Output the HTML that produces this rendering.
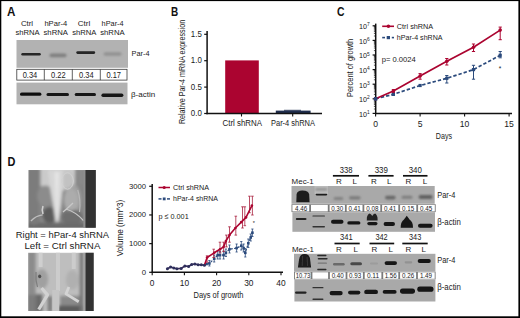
<!DOCTYPE html>
<html><head><meta charset="utf-8"><style>
html,body{margin:0;padding:0;background:#fff;overflow:hidden;}
svg{display:block;}
text{font-family:"Liberation Sans",sans-serif;}
</style></head><body>
<svg width="520" height="318" viewBox="0 0 520 318">
<defs>
<filter id="b1" x="-50%" y="-50%" width="200%" height="200%"><feGaussianBlur stdDeviation="0.7"/></filter>
<filter id="b2" x="-50%" y="-50%" width="200%" height="200%"><feGaussianBlur stdDeviation="1.0"/></filter>
<filter id="b3" x="-5%" y="-5%" width="110%" height="110%"><feGaussianBlur stdDeviation="0.6"/></filter><filter id="b4" x="-5%" y="-5%" width="110%" height="110%"><feGaussianBlur stdDeviation="1.6"/></filter>
<clipPath id="p1"><rect x="28.4" y="170" width="67.4" height="57.7"/></clipPath>
<clipPath id="p2"><rect x="28.1" y="252.8" width="65.6" height="58.3"/></clipPath>
</defs>
<rect x="0" y="0" width="520" height="318" fill="#fff"/>
<text x="7.00" y="16.30" font-size="12.2" fill="#111" textLength="8.40" lengthAdjust="spacingAndGlyphs" font-weight="bold" >A</text>
<text x="20.90" y="26.00" font-size="8.0" fill="#1a1a1a" textLength="12.20" lengthAdjust="spacingAndGlyphs" >Ctrl</text>
<text x="15.50" y="35.00" font-size="8.0" fill="#1a1a1a" textLength="24.20" lengthAdjust="spacingAndGlyphs" >shRNA</text>
<text x="44.40" y="26.00" font-size="8.0" fill="#1a1a1a" textLength="22.80" lengthAdjust="spacingAndGlyphs" >hPar-4</text>
<text x="43.50" y="35.00" font-size="8.0" fill="#1a1a1a" textLength="24.40" lengthAdjust="spacingAndGlyphs" >shRNA</text>
<text x="77.80" y="26.00" font-size="8.0" fill="#1a1a1a" textLength="12.40" lengthAdjust="spacingAndGlyphs" >Ctrl</text>
<text x="72.20" y="35.00" font-size="8.0" fill="#1a1a1a" textLength="24.20" lengthAdjust="spacingAndGlyphs" >shRNA</text>
<text x="101.60" y="26.00" font-size="8.0" fill="#1a1a1a" textLength="22.00" lengthAdjust="spacingAndGlyphs" >hPar-4</text>
<text x="100.20" y="35.00" font-size="8.0" fill="#1a1a1a" textLength="24.40" lengthAdjust="spacingAndGlyphs" >shRNA</text>
<rect x="16.50" y="40.00" width="111.50" height="27.80" fill="#b2b2b2" />
<g filter="url(#b1)">
<rect x="21.30" y="53.00" width="19.50" height="2.60" rx="1.30" fill="#252525" opacity="1"/>
<rect x="76.30" y="51.30" width="18.90" height="2.60" rx="1.30" fill="#252525" opacity="1"/>
</g>
<g filter="url(#b2)">
<rect x="49.50" y="53.60" width="17.10" height="3.60" rx="1.80" fill="#808080" opacity="1"/>
<rect x="103.50" y="52.20" width="18.10" height="3.60" rx="1.80" fill="#929292" opacity="1"/>
</g>
<rect x="16.80" y="69.30" width="110.20" height="10.80" fill="#fff" stroke="#3a3a3a" stroke-width="0.8"/>
<line x1="44.30" y1="69.30" x2="44.30" y2="80.10" stroke="#3a3a3a" stroke-width="0.8" />
<line x1="72.30" y1="69.30" x2="72.30" y2="80.10" stroke="#3a3a3a" stroke-width="0.8" />
<line x1="100.30" y1="69.30" x2="100.30" y2="80.10" stroke="#3a3a3a" stroke-width="0.8" />
<text x="30.00" y="78.30" font-size="8.6" fill="#1a1a1a" textLength="14.60" lengthAdjust="spacingAndGlyphs" text-anchor="middle" >0.34</text>
<text x="58.30" y="78.30" font-size="8.6" fill="#1a1a1a" textLength="14.60" lengthAdjust="spacingAndGlyphs" text-anchor="middle" >0.22</text>
<text x="86.30" y="78.30" font-size="8.6" fill="#1a1a1a" textLength="14.60" lengthAdjust="spacingAndGlyphs" text-anchor="middle" >0.34</text>
<text x="113.70" y="78.30" font-size="8.6" fill="#1a1a1a" textLength="14.60" lengthAdjust="spacingAndGlyphs" text-anchor="middle" >0.17</text>
<rect x="16.50" y="82.60" width="111.00" height="21.70" fill="#b2b2b2" />
<g filter="url(#b1)">
<rect x="20.00" y="92.60" width="21.40" height="3.20" rx="1.60" fill="#111" opacity="1"/>
<rect x="46.50" y="93.00" width="22.50" height="3.00" rx="1.50" fill="#151515" opacity="1"/>
<rect x="74.70" y="93.10" width="21.30" height="3.00" rx="1.50" fill="#151515" opacity="1"/>
<rect x="101.40" y="93.50" width="22.00" height="3.40" rx="1.70" fill="#151515" opacity="1"/>
</g>
<text x="131.60" y="55.50" font-size="8.0" fill="#1a1a1a" textLength="17.90" lengthAdjust="spacingAndGlyphs" >Par-4</text>
<text x="131.00" y="97.00" font-size="8.0" fill="#1a1a1a" textLength="24.20" lengthAdjust="spacingAndGlyphs" >β-actin</text>
<text x="170.90" y="16.40" font-size="12.2" fill="#111" textLength="7.20" lengthAdjust="spacingAndGlyphs" font-weight="bold" >B</text>
<text transform="translate(185,72) rotate(-90)" x="0" y="0" font-size="9" text-anchor="middle" textLength="104.2" lengthAdjust="spacingAndGlyphs" fill="#1a1a1a">Relative Par-4 mRNA expression</text>
<line x1="207.10" y1="31.00" x2="207.10" y2="114.20" stroke="#111" stroke-width="1.5" />
<line x1="204.20" y1="113.50" x2="207.10" y2="113.50" stroke="#111" stroke-width="1.2" />
<text x="201.80" y="116.20" font-size="8.3" fill="#1a1a1a" textLength="11.00" lengthAdjust="spacingAndGlyphs" text-anchor="end" >0.0</text>
<line x1="204.20" y1="87.10" x2="207.10" y2="87.10" stroke="#111" stroke-width="1.2" />
<text x="201.80" y="89.80" font-size="8.3" fill="#1a1a1a" textLength="11.00" lengthAdjust="spacingAndGlyphs" text-anchor="end" >0.5</text>
<line x1="204.20" y1="60.70" x2="207.10" y2="60.70" stroke="#111" stroke-width="1.2" />
<text x="201.80" y="63.40" font-size="8.3" fill="#1a1a1a" textLength="11.00" lengthAdjust="spacingAndGlyphs" text-anchor="end" >1.0</text>
<line x1="204.20" y1="34.30" x2="207.10" y2="34.30" stroke="#111" stroke-width="1.2" />
<text x="201.80" y="37.00" font-size="8.3" fill="#1a1a1a" textLength="11.00" lengthAdjust="spacingAndGlyphs" text-anchor="end" >1.5</text>
<rect x="225.20" y="60.40" width="33.60" height="53.10" fill="#ab0430" />
<rect x="275.80" y="110.60" width="34.80" height="2.90" fill="#1f2d4d" />
<line x1="284.00" y1="110.30" x2="301.00" y2="110.30" stroke="#1f2d4d" stroke-width="0.9" />
<line x1="206.40" y1="113.50" x2="322.00" y2="113.50" stroke="#111" stroke-width="1.5" />
<line x1="241.50" y1="113.50" x2="241.50" y2="116.50" stroke="#111" stroke-width="1.1" />
<line x1="292.70" y1="113.50" x2="292.70" y2="116.50" stroke="#111" stroke-width="1.1" />
<text x="222.50" y="126.10" font-size="8.4" fill="#1a1a1a" textLength="39.50" lengthAdjust="spacingAndGlyphs" >Ctrl shRNA</text>
<text x="271.00" y="126.10" font-size="8.4" fill="#1a1a1a" textLength="44.00" lengthAdjust="spacingAndGlyphs" >Par-4 shRNA</text>
<text x="336.90" y="16.40" font-size="12.2" fill="#111" textLength="7.50" lengthAdjust="spacingAndGlyphs" font-weight="bold" >C</text>
<text transform="translate(352.6,67.9) rotate(-90)" x="0" y="0" font-size="9" text-anchor="middle" textLength="58.2" lengthAdjust="spacingAndGlyphs" fill="#1a1a1a">Percent of growth</text>
<line x1="375.70" y1="23.60" x2="375.70" y2="114.10" stroke="#111" stroke-width="1.5" />
<line x1="372.60" y1="113.40" x2="375.70" y2="113.40" stroke="#111" stroke-width="1.2" />
<text x="359.00" y="116.70" font-size="7.3" fill="#1a1a1a" textLength="8.00" lengthAdjust="spacingAndGlyphs" >10</text>
<text x="367.10" y="114.00" font-size="5.0" fill="#1a1a1a" textLength="2.70" lengthAdjust="spacingAndGlyphs" >1</text>
<line x1="373.90" y1="109.00" x2="375.70" y2="109.00" stroke="#111" stroke-width="0.7" />
<line x1="373.90" y1="106.43" x2="375.70" y2="106.43" stroke="#111" stroke-width="0.7" />
<line x1="373.90" y1="104.61" x2="375.70" y2="104.61" stroke="#111" stroke-width="0.7" />
<line x1="373.90" y1="103.20" x2="375.70" y2="103.20" stroke="#111" stroke-width="0.7" />
<line x1="373.90" y1="102.04" x2="375.70" y2="102.04" stroke="#111" stroke-width="0.7" />
<line x1="373.90" y1="101.06" x2="375.70" y2="101.06" stroke="#111" stroke-width="0.7" />
<line x1="373.90" y1="100.21" x2="375.70" y2="100.21" stroke="#111" stroke-width="0.7" />
<line x1="373.90" y1="99.47" x2="375.70" y2="99.47" stroke="#111" stroke-width="0.7" />
<line x1="372.60" y1="98.80" x2="375.70" y2="98.80" stroke="#111" stroke-width="1.2" />
<text x="359.00" y="102.10" font-size="7.3" fill="#1a1a1a" textLength="8.00" lengthAdjust="spacingAndGlyphs" >10</text>
<text x="367.10" y="99.40" font-size="5.0" fill="#1a1a1a" textLength="2.70" lengthAdjust="spacingAndGlyphs" >2</text>
<line x1="373.90" y1="94.40" x2="375.70" y2="94.40" stroke="#111" stroke-width="0.7" />
<line x1="373.90" y1="91.83" x2="375.70" y2="91.83" stroke="#111" stroke-width="0.7" />
<line x1="373.90" y1="90.01" x2="375.70" y2="90.01" stroke="#111" stroke-width="0.7" />
<line x1="373.90" y1="88.60" x2="375.70" y2="88.60" stroke="#111" stroke-width="0.7" />
<line x1="373.90" y1="87.44" x2="375.70" y2="87.44" stroke="#111" stroke-width="0.7" />
<line x1="373.90" y1="86.46" x2="375.70" y2="86.46" stroke="#111" stroke-width="0.7" />
<line x1="373.90" y1="85.61" x2="375.70" y2="85.61" stroke="#111" stroke-width="0.7" />
<line x1="373.90" y1="84.87" x2="375.70" y2="84.87" stroke="#111" stroke-width="0.7" />
<line x1="372.60" y1="84.20" x2="375.70" y2="84.20" stroke="#111" stroke-width="1.2" />
<text x="359.00" y="87.50" font-size="7.3" fill="#1a1a1a" textLength="8.00" lengthAdjust="spacingAndGlyphs" >10</text>
<text x="367.10" y="84.80" font-size="5.0" fill="#1a1a1a" textLength="2.70" lengthAdjust="spacingAndGlyphs" >3</text>
<line x1="373.90" y1="79.80" x2="375.70" y2="79.80" stroke="#111" stroke-width="0.7" />
<line x1="373.90" y1="77.23" x2="375.70" y2="77.23" stroke="#111" stroke-width="0.7" />
<line x1="373.90" y1="75.41" x2="375.70" y2="75.41" stroke="#111" stroke-width="0.7" />
<line x1="373.90" y1="74.00" x2="375.70" y2="74.00" stroke="#111" stroke-width="0.7" />
<line x1="373.90" y1="72.84" x2="375.70" y2="72.84" stroke="#111" stroke-width="0.7" />
<line x1="373.90" y1="71.86" x2="375.70" y2="71.86" stroke="#111" stroke-width="0.7" />
<line x1="373.90" y1="71.01" x2="375.70" y2="71.01" stroke="#111" stroke-width="0.7" />
<line x1="373.90" y1="70.27" x2="375.70" y2="70.27" stroke="#111" stroke-width="0.7" />
<line x1="372.60" y1="69.60" x2="375.70" y2="69.60" stroke="#111" stroke-width="1.2" />
<text x="359.00" y="72.90" font-size="7.3" fill="#1a1a1a" textLength="8.00" lengthAdjust="spacingAndGlyphs" >10</text>
<text x="367.10" y="70.20" font-size="5.0" fill="#1a1a1a" textLength="2.70" lengthAdjust="spacingAndGlyphs" >4</text>
<line x1="373.90" y1="65.20" x2="375.70" y2="65.20" stroke="#111" stroke-width="0.7" />
<line x1="373.90" y1="62.63" x2="375.70" y2="62.63" stroke="#111" stroke-width="0.7" />
<line x1="373.90" y1="60.81" x2="375.70" y2="60.81" stroke="#111" stroke-width="0.7" />
<line x1="373.90" y1="59.40" x2="375.70" y2="59.40" stroke="#111" stroke-width="0.7" />
<line x1="373.90" y1="58.24" x2="375.70" y2="58.24" stroke="#111" stroke-width="0.7" />
<line x1="373.90" y1="57.26" x2="375.70" y2="57.26" stroke="#111" stroke-width="0.7" />
<line x1="373.90" y1="56.41" x2="375.70" y2="56.41" stroke="#111" stroke-width="0.7" />
<line x1="373.90" y1="55.67" x2="375.70" y2="55.67" stroke="#111" stroke-width="0.7" />
<line x1="372.60" y1="55.00" x2="375.70" y2="55.00" stroke="#111" stroke-width="1.2" />
<text x="359.00" y="58.30" font-size="7.3" fill="#1a1a1a" textLength="8.00" lengthAdjust="spacingAndGlyphs" >10</text>
<text x="367.10" y="55.60" font-size="5.0" fill="#1a1a1a" textLength="2.70" lengthAdjust="spacingAndGlyphs" >5</text>
<line x1="373.90" y1="50.60" x2="375.70" y2="50.60" stroke="#111" stroke-width="0.7" />
<line x1="373.90" y1="48.03" x2="375.70" y2="48.03" stroke="#111" stroke-width="0.7" />
<line x1="373.90" y1="46.21" x2="375.70" y2="46.21" stroke="#111" stroke-width="0.7" />
<line x1="373.90" y1="44.80" x2="375.70" y2="44.80" stroke="#111" stroke-width="0.7" />
<line x1="373.90" y1="43.64" x2="375.70" y2="43.64" stroke="#111" stroke-width="0.7" />
<line x1="373.90" y1="42.66" x2="375.70" y2="42.66" stroke="#111" stroke-width="0.7" />
<line x1="373.90" y1="41.81" x2="375.70" y2="41.81" stroke="#111" stroke-width="0.7" />
<line x1="373.90" y1="41.07" x2="375.70" y2="41.07" stroke="#111" stroke-width="0.7" />
<line x1="372.60" y1="40.40" x2="375.70" y2="40.40" stroke="#111" stroke-width="1.2" />
<text x="359.00" y="43.70" font-size="7.3" fill="#1a1a1a" textLength="8.00" lengthAdjust="spacingAndGlyphs" >10</text>
<text x="367.10" y="41.00" font-size="5.0" fill="#1a1a1a" textLength="2.70" lengthAdjust="spacingAndGlyphs" >6</text>
<line x1="373.90" y1="36.00" x2="375.70" y2="36.00" stroke="#111" stroke-width="0.7" />
<line x1="373.90" y1="33.43" x2="375.70" y2="33.43" stroke="#111" stroke-width="0.7" />
<line x1="373.90" y1="31.61" x2="375.70" y2="31.61" stroke="#111" stroke-width="0.7" />
<line x1="373.90" y1="30.20" x2="375.70" y2="30.20" stroke="#111" stroke-width="0.7" />
<line x1="373.90" y1="29.04" x2="375.70" y2="29.04" stroke="#111" stroke-width="0.7" />
<line x1="373.90" y1="28.06" x2="375.70" y2="28.06" stroke="#111" stroke-width="0.7" />
<line x1="373.90" y1="27.21" x2="375.70" y2="27.21" stroke="#111" stroke-width="0.7" />
<line x1="373.90" y1="26.47" x2="375.70" y2="26.47" stroke="#111" stroke-width="0.7" />
<line x1="372.60" y1="25.80" x2="375.70" y2="25.80" stroke="#111" stroke-width="1.2" />
<text x="359.00" y="29.10" font-size="7.3" fill="#1a1a1a" textLength="8.00" lengthAdjust="spacingAndGlyphs" >10</text>
<text x="367.10" y="26.40" font-size="5.0" fill="#1a1a1a" textLength="2.70" lengthAdjust="spacingAndGlyphs" >7</text>
<line x1="375.00" y1="113.40" x2="512.00" y2="113.40" stroke="#111" stroke-width="1.5" />
<line x1="375.60" y1="113.40" x2="375.60" y2="116.60" stroke="#111" stroke-width="1.1" />
<text x="375.60" y="126.60" font-size="8.6" fill="#1a1a1a" text-anchor="middle" >0</text>
<line x1="420.10" y1="113.40" x2="420.10" y2="116.60" stroke="#111" stroke-width="1.1" />
<text x="420.10" y="126.60" font-size="8.6" fill="#1a1a1a" text-anchor="middle" >5</text>
<line x1="464.60" y1="113.40" x2="464.60" y2="116.60" stroke="#111" stroke-width="1.1" />
<text x="464.60" y="126.60" font-size="8.6" fill="#1a1a1a" text-anchor="middle" >10</text>
<line x1="509.10" y1="113.40" x2="509.10" y2="116.60" stroke="#111" stroke-width="1.1" />
<text x="509.10" y="126.60" font-size="8.6" fill="#1a1a1a" text-anchor="middle" >15</text>
<text x="435.80" y="139.20" font-size="9.8" fill="#1a1a1a" textLength="16.20" lengthAdjust="spacingAndGlyphs" >Days</text>
<polyline points="375.6,98.8 393.4,94.3 420.1,85.5 446.8,78.3 473.5,69.6 500.2,55.3" fill="none" stroke="#2b4a7c" stroke-width="1.7" stroke-dasharray="3.4,2"/>
<polyline points="375.6,98.8 393.4,91.1 420.1,76 446.8,61.3 473.5,47.2 500.2,30.1" fill="none" stroke="#ab0430" stroke-width="1.7"/>
<line x1="393.40" y1="93.30" x2="393.40" y2="95.30" stroke="#2b4a7c" stroke-width="1" />
<line x1="391.80" y1="93.30" x2="395.00" y2="93.30" stroke="#2b4a7c" stroke-width="1" />
<line x1="391.80" y1="95.30" x2="395.00" y2="95.30" stroke="#2b4a7c" stroke-width="1" />
<line x1="446.80" y1="75.50" x2="446.80" y2="83.00" stroke="#2b4a7c" stroke-width="1" />
<line x1="445.20" y1="75.50" x2="448.40" y2="75.50" stroke="#2b4a7c" stroke-width="1" />
<line x1="445.20" y1="83.00" x2="448.40" y2="83.00" stroke="#2b4a7c" stroke-width="1" />
<line x1="473.50" y1="65.30" x2="473.50" y2="79.20" stroke="#2b4a7c" stroke-width="1" />
<line x1="471.90" y1="65.30" x2="475.10" y2="65.30" stroke="#2b4a7c" stroke-width="1" />
<line x1="471.90" y1="79.20" x2="475.10" y2="79.20" stroke="#2b4a7c" stroke-width="1" />
<line x1="500.20" y1="51.50" x2="500.20" y2="57.80" stroke="#2b4a7c" stroke-width="1" />
<line x1="498.60" y1="51.50" x2="501.80" y2="51.50" stroke="#2b4a7c" stroke-width="1" />
<line x1="498.60" y1="57.80" x2="501.80" y2="57.80" stroke="#2b4a7c" stroke-width="1" />
<line x1="393.40" y1="89.60" x2="393.40" y2="92.60" stroke="#ab0430" stroke-width="1" />
<line x1="391.80" y1="89.60" x2="395.00" y2="89.60" stroke="#ab0430" stroke-width="1" />
<line x1="391.80" y1="92.60" x2="395.00" y2="92.60" stroke="#ab0430" stroke-width="1" />
<line x1="420.10" y1="73.60" x2="420.10" y2="79.20" stroke="#ab0430" stroke-width="1" />
<line x1="418.50" y1="73.60" x2="421.70" y2="73.60" stroke="#ab0430" stroke-width="1" />
<line x1="418.50" y1="79.20" x2="421.70" y2="79.20" stroke="#ab0430" stroke-width="1" />
<line x1="446.80" y1="58.50" x2="446.80" y2="65.00" stroke="#ab0430" stroke-width="1" />
<line x1="445.20" y1="58.50" x2="448.40" y2="58.50" stroke="#ab0430" stroke-width="1" />
<line x1="445.20" y1="65.00" x2="448.40" y2="65.00" stroke="#ab0430" stroke-width="1" />
<line x1="473.50" y1="44.00" x2="473.50" y2="51.50" stroke="#ab0430" stroke-width="1" />
<line x1="471.90" y1="44.00" x2="475.10" y2="44.00" stroke="#ab0430" stroke-width="1" />
<line x1="471.90" y1="51.50" x2="475.10" y2="51.50" stroke="#ab0430" stroke-width="1" />
<line x1="500.20" y1="27.10" x2="500.20" y2="39.70" stroke="#ab0430" stroke-width="1" />
<line x1="498.60" y1="27.10" x2="501.80" y2="27.10" stroke="#ab0430" stroke-width="1" />
<line x1="498.60" y1="39.70" x2="501.80" y2="39.70" stroke="#ab0430" stroke-width="1" />
<rect x="374.00" y="97.20" width="3.20" height="3.20" fill="#2b4a7c" />
<rect x="391.80" y="92.70" width="3.20" height="3.20" fill="#2b4a7c" />
<rect x="418.50" y="83.90" width="3.20" height="3.20" fill="#2b4a7c" />
<rect x="445.20" y="76.70" width="3.20" height="3.20" fill="#2b4a7c" />
<rect x="471.90" y="68.00" width="3.20" height="3.20" fill="#2b4a7c" />
<rect x="498.60" y="53.70" width="3.20" height="3.20" fill="#2b4a7c" />
<ellipse cx="375.60" cy="98.80" rx="1.80" ry="1.80" fill="#ab0430" />
<ellipse cx="393.40" cy="91.10" rx="1.80" ry="1.80" fill="#ab0430" />
<ellipse cx="420.10" cy="76.00" rx="1.80" ry="1.80" fill="#ab0430" />
<ellipse cx="446.80" cy="61.30" rx="1.80" ry="1.80" fill="#ab0430" />
<ellipse cx="473.50" cy="47.20" rx="1.80" ry="1.80" fill="#ab0430" />
<ellipse cx="500.20" cy="30.10" rx="1.80" ry="1.80" fill="#ab0430" />
<rect x="373.90" y="97.10" width="3.40" height="3.40" fill="#2b4a7c" />
<text x="500.00" y="70.60" font-size="6.5" fill="#1a1a1a" text-anchor="middle" >*</text>
<line x1="382.20" y1="26.30" x2="394.00" y2="26.30" stroke="#ab0430" stroke-width="1.6" />
<ellipse cx="388.40" cy="26.30" rx="1.80" ry="1.80" fill="#ab0430" />
<text x="396.80" y="28.60" font-size="7.6" fill="#1a1a1a" textLength="36.40" lengthAdjust="spacingAndGlyphs" >Ctrl shRNA</text>
<line x1="382.20" y1="37.60" x2="385.00" y2="37.60" stroke="#2b4a7c" stroke-width="1.6" />
<line x1="391.80" y1="37.60" x2="394.00" y2="37.60" stroke="#2b4a7c" stroke-width="1.6" />
<rect x="386.70" y="36.00" width="3.30" height="3.20" fill="#2b4a7c" />
<text x="396.80" y="39.60" font-size="7.6" fill="#1a1a1a" textLength="45.80" lengthAdjust="spacingAndGlyphs" >hPar-4 shRNA</text>
<text x="381.70" y="62.40" font-size="7.8" fill="#1a1a1a" textLength="34.10" lengthAdjust="spacingAndGlyphs" >p= 0.0024</text>
<text x="7.60" y="166.40" font-size="12.2" fill="#111" textLength="7.90" lengthAdjust="spacingAndGlyphs" font-weight="bold" >D</text>
<g clip-path="url(#p1)"><g filter="url(#b4)">
<rect x="27" y="168" width="70" height="62" fill="#868686"/>
<rect x="27" y="168" width="12" height="62" fill="#7c7c7c"/>
<path d="M40.6,168 L75,168 L75,186 L64,190 L56,196 L48,188 L40.6,186 Z" fill="#cacaca"/>
<ellipse cx="45.5" cy="196" rx="8.5" ry="10.5" fill="#8c8c8c"/>
<ellipse cx="72.5" cy="199" rx="8.5" ry="15" fill="#a2a2a2"/>
<ellipse cx="67.5" cy="180.5" rx="6" ry="8.5" fill="#c2c2c2"/>
<path d="M75,168 L83.5,168 L83.5,186 L78,184 Z" fill="#8a8a8a"/>
<ellipse cx="49.5" cy="215" rx="7" ry="8" fill="#5c5c5c"/>
<ellipse cx="72" cy="217" rx="11" ry="7.5" fill="#6e6e6e"/>
<rect x="27" y="222.6" width="58" height="7" fill="#6a6a6a"/>
<ellipse cx="34" cy="220" rx="6" ry="5" fill="#7a7a7a"/>
<path d="M48,170 L63,170 L63,186 L61,205 L58.5,222 L55.5,222 L53,205 L50,188 Z" fill="#d6d6d6"/>
<path d="M54.5,172 L59,172 L58.2,218 L56,218 Z" fill="#e4e4e4"/>
<ellipse cx="71" cy="200" rx="7" ry="11" fill="#acacac"/>
</g><g filter="url(#b3)">
<ellipse cx="67.5" cy="181" rx="5.8" ry="8.2" fill="none" stroke="#d2d2d2" stroke-width="1.0"/>
<path d="M77.7,190 Q81,200 79.5,212" stroke="#b8b8b8" stroke-width="1.2" fill="none"/>
<path d="M43,206 Q41.5,210 43,214" stroke="#d0d0d0" stroke-width="1.6" fill="none"/>
<path d="M30.9,221 Q36,215.5 42.6,214.8" stroke="#bebebe" stroke-width="1.2" fill="none"/>
<path d="M63,212 Q68,208 73,203 M66,209 Q76,212 83.5,220.6" stroke="#c8c8c8" stroke-width="1.3" fill="none"/>
<rect x="83.4" y="168" width="2.1" height="62" fill="#8e8e8e"/>
<rect x="85.5" y="168" width="12" height="62" fill="#303030"/>
</g></g>
<g clip-path="url(#p2)"><g filter="url(#b4)">
<rect x="27" y="251" width="70" height="62" fill="#bebebe"/>
<rect x="27" y="251" width="8.8" height="62" fill="#8c8c8c"/>
<rect x="27" y="295" width="10" height="18" fill="#7c7c7c"/>
<ellipse cx="42" cy="279" rx="6.3" ry="10" fill="#a0a0a0"/>
<ellipse cx="72.3" cy="280" rx="6.5" ry="10" fill="#b0b0b0"/>
<path d="M35.8,294 L42.6,294 L42.6,312 L35.8,312 Z" fill="#6a6a6a"/>
<path d="M47.5,296 L52.3,296 L52.3,312 L47.5,312 Z" fill="#7a7a7a"/>
<path d="M60,295.8 L81.6,295.8 L81.6,312 L60,312 Z" fill="#8a8a8a"/>
<rect x="58" y="305.6" width="26" height="7" fill="#5a5a5a"/>
<path d="M79.6,251 L83.5,251 L83.5,313 L79.6,313 Z" fill="#747474"/>
</g><g filter="url(#b3)">
<rect x="38.7" y="251" width="3.9" height="16" fill="#cfcfcf"/>
<rect x="56" y="251" width="4" height="40" fill="#cccccc"/>
<rect x="71.8" y="251" width="3.9" height="18" fill="#cccccc"/>
<ellipse cx="39.7" cy="276.3" rx="1.6" ry="1.9" fill="#505050"/>
<path d="M36,272 Q35.3,280 37.5,287" stroke="#7e7e7e" stroke-width="1.2" fill="none"/>
<path d="M41.6,288 L47.5,294.9 L38.7,309.5" stroke="#d2d2d2" stroke-width="3.2" fill="none" stroke-linejoin="round"/>
<rect x="52.3" y="290" width="6.9" height="22" fill="#c6c6c6"/>
<path d="M68.9,287 L66,293.9 L78.7,301.7" stroke="#d4d4d4" stroke-width="2.8" fill="none" stroke-linejoin="round"/>
<rect x="83.5" y="251" width="2" height="62" fill="#a0a0a0"/>
<rect x="85.5" y="251" width="12" height="62" fill="#303030"/>
</g></g>
<text x="15.80" y="237.70" font-size="9.6" fill="#1a1a1a" textLength="93.20" lengthAdjust="spacingAndGlyphs" >Right = hPar-4 shRNA</text>
<text x="24.40" y="248.70" font-size="9.6" fill="#1a1a1a" textLength="76.00" lengthAdjust="spacingAndGlyphs" >Left = Ctrl shRNA</text>
<text transform="translate(123.2,228.1) rotate(-90)" x="0" y="0" font-size="9" text-anchor="middle" textLength="56.5" lengthAdjust="spacingAndGlyphs" fill="#1a1a1a">Volume (mm^3)</text>
<line x1="152.20" y1="184.00" x2="152.20" y2="273.00" stroke="#111" stroke-width="1.5" />
<line x1="149.20" y1="272.30" x2="152.20" y2="272.30" stroke="#111" stroke-width="1.2" />
<text x="146.00" y="274.80" font-size="7.8" fill="#1a1a1a" text-anchor="end" >0</text>
<line x1="149.20" y1="243.63" x2="152.20" y2="243.63" stroke="#111" stroke-width="1.2" />
<text x="146.00" y="246.13" font-size="7.8" fill="#1a1a1a" textLength="17.10" lengthAdjust="spacingAndGlyphs" text-anchor="end" >1000</text>
<line x1="149.20" y1="214.96" x2="152.20" y2="214.96" stroke="#111" stroke-width="1.2" />
<text x="146.00" y="217.46" font-size="7.8" fill="#1a1a1a" textLength="17.10" lengthAdjust="spacingAndGlyphs" text-anchor="end" >2000</text>
<line x1="149.20" y1="186.29" x2="152.20" y2="186.29" stroke="#111" stroke-width="1.2" />
<text x="146.00" y="188.79" font-size="7.8" fill="#1a1a1a" textLength="17.10" lengthAdjust="spacingAndGlyphs" text-anchor="end" >3000</text>
<line x1="151.70" y1="272.30" x2="283.00" y2="272.30" stroke="#111" stroke-width="1.5" />
<line x1="152.20" y1="272.30" x2="152.20" y2="275.20" stroke="#111" stroke-width="1.1" />
<text x="152.20" y="286.20" font-size="8.4" fill="#1a1a1a" text-anchor="middle" >0</text>
<line x1="184.40" y1="272.30" x2="184.40" y2="275.20" stroke="#111" stroke-width="1.1" />
<text x="184.40" y="286.20" font-size="8.4" fill="#1a1a1a" text-anchor="middle" >10</text>
<line x1="216.60" y1="272.30" x2="216.60" y2="275.20" stroke="#111" stroke-width="1.1" />
<text x="216.60" y="286.20" font-size="8.4" fill="#1a1a1a" text-anchor="middle" >20</text>
<line x1="248.80" y1="272.30" x2="248.80" y2="275.20" stroke="#111" stroke-width="1.1" />
<text x="248.80" y="286.20" font-size="8.4" fill="#1a1a1a" text-anchor="middle" >30</text>
<line x1="281.00" y1="272.30" x2="281.00" y2="275.20" stroke="#111" stroke-width="1.1" />
<text x="281.00" y="286.20" font-size="8.4" fill="#1a1a1a" text-anchor="middle" >40</text>
<text x="193.50" y="297.60" font-size="9.2" fill="#1a1a1a" textLength="49.90" lengthAdjust="spacingAndGlyphs" >Days of growth</text>
<line x1="158.50" y1="187.50" x2="170.00" y2="187.50" stroke="#ab0430" stroke-width="1.5" />
<ellipse cx="164.20" cy="187.50" rx="1.60" ry="1.60" fill="#ab0430" />
<text x="173.00" y="189.50" font-size="7.6" fill="#1a1a1a" textLength="36.00" lengthAdjust="spacingAndGlyphs" >Ctrl shRNA</text>
<line x1="158.50" y1="198.90" x2="161.50" y2="198.90" stroke="#2b4a7c" stroke-width="1.5" />
<line x1="167.00" y1="198.90" x2="170.00" y2="198.90" stroke="#2b4a7c" stroke-width="1.5" />
<rect x="162.80" y="197.50" width="2.80" height="2.80" fill="#2b4a7c" />
<text x="173.00" y="200.90" font-size="7.6" fill="#1a1a1a" textLength="45.00" lengthAdjust="spacingAndGlyphs" >hPar-4 shRNA</text>
<text x="158.50" y="219.40" font-size="7.8" fill="#1a1a1a" textLength="30.20" lengthAdjust="spacingAndGlyphs" >p ≤ 0.001</text>
<polyline points="204.4,265.2 206.6,264 209.4,263.4 214.2,258.7 217.7,255.1 220,255.1 223.6,255.1 225.9,252.8 229.5,249.2 236.6,248.1 241.3,245.7 243.6,248.1 245.3,252.8 248.3,243.3 250.7,237.5 252.4,232.7" fill="none" stroke="#2b4a7c" stroke-width="1.2" stroke-dasharray="2.2,1.4"/>
<line x1="209.40" y1="260.50" x2="209.40" y2="266.00" stroke="#2b4a7c" stroke-width="0.8" />
<line x1="208.30" y1="260.50" x2="210.50" y2="260.50" stroke="#2b4a7c" stroke-width="0.8" />
<line x1="208.30" y1="266.00" x2="210.50" y2="266.00" stroke="#2b4a7c" stroke-width="0.8" />
<line x1="214.20" y1="255.00" x2="214.20" y2="262.00" stroke="#2b4a7c" stroke-width="0.8" />
<line x1="213.10" y1="255.00" x2="215.30" y2="255.00" stroke="#2b4a7c" stroke-width="0.8" />
<line x1="213.10" y1="262.00" x2="215.30" y2="262.00" stroke="#2b4a7c" stroke-width="0.8" />
<line x1="217.70" y1="251.00" x2="217.70" y2="259.00" stroke="#2b4a7c" stroke-width="0.8" />
<line x1="216.60" y1="251.00" x2="218.80" y2="251.00" stroke="#2b4a7c" stroke-width="0.8" />
<line x1="216.60" y1="259.00" x2="218.80" y2="259.00" stroke="#2b4a7c" stroke-width="0.8" />
<line x1="220.00" y1="251.50" x2="220.00" y2="259.00" stroke="#2b4a7c" stroke-width="0.8" />
<line x1="218.90" y1="251.50" x2="221.10" y2="251.50" stroke="#2b4a7c" stroke-width="0.8" />
<line x1="218.90" y1="259.00" x2="221.10" y2="259.00" stroke="#2b4a7c" stroke-width="0.8" />
<line x1="223.60" y1="251.00" x2="223.60" y2="259.00" stroke="#2b4a7c" stroke-width="0.8" />
<line x1="222.50" y1="251.00" x2="224.70" y2="251.00" stroke="#2b4a7c" stroke-width="0.8" />
<line x1="222.50" y1="259.00" x2="224.70" y2="259.00" stroke="#2b4a7c" stroke-width="0.8" />
<line x1="225.90" y1="249.00" x2="225.90" y2="256.50" stroke="#2b4a7c" stroke-width="0.8" />
<line x1="224.80" y1="249.00" x2="227.00" y2="249.00" stroke="#2b4a7c" stroke-width="0.8" />
<line x1="224.80" y1="256.50" x2="227.00" y2="256.50" stroke="#2b4a7c" stroke-width="0.8" />
<line x1="229.50" y1="245.00" x2="229.50" y2="253.00" stroke="#2b4a7c" stroke-width="0.8" />
<line x1="228.40" y1="245.00" x2="230.60" y2="245.00" stroke="#2b4a7c" stroke-width="0.8" />
<line x1="228.40" y1="253.00" x2="230.60" y2="253.00" stroke="#2b4a7c" stroke-width="0.8" />
<line x1="236.60" y1="244.00" x2="236.60" y2="252.00" stroke="#2b4a7c" stroke-width="0.8" />
<line x1="235.50" y1="244.00" x2="237.70" y2="244.00" stroke="#2b4a7c" stroke-width="0.8" />
<line x1="235.50" y1="252.00" x2="237.70" y2="252.00" stroke="#2b4a7c" stroke-width="0.8" />
<line x1="241.30" y1="241.50" x2="241.30" y2="250.00" stroke="#2b4a7c" stroke-width="0.8" />
<line x1="240.20" y1="241.50" x2="242.40" y2="241.50" stroke="#2b4a7c" stroke-width="0.8" />
<line x1="240.20" y1="250.00" x2="242.40" y2="250.00" stroke="#2b4a7c" stroke-width="0.8" />
<line x1="243.60" y1="244.00" x2="243.60" y2="252.00" stroke="#2b4a7c" stroke-width="0.8" />
<line x1="242.50" y1="244.00" x2="244.70" y2="244.00" stroke="#2b4a7c" stroke-width="0.8" />
<line x1="242.50" y1="252.00" x2="244.70" y2="252.00" stroke="#2b4a7c" stroke-width="0.8" />
<line x1="245.30" y1="248.50" x2="245.30" y2="257.00" stroke="#2b4a7c" stroke-width="0.8" />
<line x1="244.20" y1="248.50" x2="246.40" y2="248.50" stroke="#2b4a7c" stroke-width="0.8" />
<line x1="244.20" y1="257.00" x2="246.40" y2="257.00" stroke="#2b4a7c" stroke-width="0.8" />
<line x1="248.30" y1="239.00" x2="248.30" y2="247.50" stroke="#2b4a7c" stroke-width="0.8" />
<line x1="247.20" y1="239.00" x2="249.40" y2="239.00" stroke="#2b4a7c" stroke-width="0.8" />
<line x1="247.20" y1="247.50" x2="249.40" y2="247.50" stroke="#2b4a7c" stroke-width="0.8" />
<line x1="250.70" y1="234.00" x2="250.70" y2="241.00" stroke="#2b4a7c" stroke-width="0.8" />
<line x1="249.60" y1="234.00" x2="251.80" y2="234.00" stroke="#2b4a7c" stroke-width="0.8" />
<line x1="249.60" y1="241.00" x2="251.80" y2="241.00" stroke="#2b4a7c" stroke-width="0.8" />
<line x1="252.40" y1="229.00" x2="252.40" y2="236.50" stroke="#2b4a7c" stroke-width="0.8" />
<line x1="251.30" y1="229.00" x2="253.50" y2="229.00" stroke="#2b4a7c" stroke-width="0.8" />
<line x1="251.30" y1="236.50" x2="253.50" y2="236.50" stroke="#2b4a7c" stroke-width="0.8" />
<rect x="205.30" y="262.70" width="2.60" height="2.60" fill="#2b4a7c" />
<rect x="208.10" y="262.10" width="2.60" height="2.60" fill="#2b4a7c" />
<rect x="212.90" y="257.40" width="2.60" height="2.60" fill="#2b4a7c" />
<rect x="216.40" y="253.80" width="2.60" height="2.60" fill="#2b4a7c" />
<rect x="218.70" y="253.80" width="2.60" height="2.60" fill="#2b4a7c" />
<rect x="222.30" y="253.80" width="2.60" height="2.60" fill="#2b4a7c" />
<rect x="224.60" y="251.50" width="2.60" height="2.60" fill="#2b4a7c" />
<rect x="228.20" y="247.90" width="2.60" height="2.60" fill="#2b4a7c" />
<rect x="235.30" y="246.80" width="2.60" height="2.60" fill="#2b4a7c" />
<rect x="240.00" y="244.40" width="2.60" height="2.60" fill="#2b4a7c" />
<rect x="242.30" y="246.80" width="2.60" height="2.60" fill="#2b4a7c" />
<rect x="244.00" y="251.50" width="2.60" height="2.60" fill="#2b4a7c" />
<rect x="247.00" y="242.00" width="2.60" height="2.60" fill="#2b4a7c" />
<rect x="249.40" y="236.20" width="2.60" height="2.60" fill="#2b4a7c" />
<rect x="251.10" y="231.40" width="2.60" height="2.60" fill="#2b4a7c" />
<line x1="207.10" y1="255.80" x2="207.10" y2="262.20" stroke="#a8203e" stroke-width="0.8" />
<line x1="205.80" y1="255.80" x2="208.40" y2="255.80" stroke="#a8203e" stroke-width="0.8" />
<line x1="205.80" y1="262.20" x2="208.40" y2="262.20" stroke="#a8203e" stroke-width="0.8" />
<line x1="213.70" y1="249.20" x2="213.70" y2="257.50" stroke="#a8203e" stroke-width="0.8" />
<line x1="212.40" y1="249.20" x2="215.00" y2="249.20" stroke="#a8203e" stroke-width="0.8" />
<line x1="212.40" y1="257.50" x2="215.00" y2="257.50" stroke="#a8203e" stroke-width="0.8" />
<line x1="220.00" y1="242.20" x2="220.00" y2="252.80" stroke="#a8203e" stroke-width="0.8" />
<line x1="218.70" y1="242.20" x2="221.30" y2="242.20" stroke="#a8203e" stroke-width="0.8" />
<line x1="218.70" y1="252.80" x2="221.30" y2="252.80" stroke="#a8203e" stroke-width="0.8" />
<line x1="223.60" y1="242.20" x2="223.60" y2="251.60" stroke="#a8203e" stroke-width="0.8" />
<line x1="222.30" y1="242.20" x2="224.90" y2="242.20" stroke="#a8203e" stroke-width="0.8" />
<line x1="222.30" y1="251.60" x2="224.90" y2="251.60" stroke="#a8203e" stroke-width="0.8" />
<line x1="226.40" y1="235.10" x2="226.40" y2="246.90" stroke="#a8203e" stroke-width="0.8" />
<line x1="225.10" y1="235.10" x2="227.70" y2="235.10" stroke="#a8203e" stroke-width="0.8" />
<line x1="225.10" y1="246.90" x2="227.70" y2="246.90" stroke="#a8203e" stroke-width="0.8" />
<line x1="229.50" y1="226.80" x2="229.50" y2="242.20" stroke="#a8203e" stroke-width="0.8" />
<line x1="228.20" y1="226.80" x2="230.80" y2="226.80" stroke="#a8203e" stroke-width="0.8" />
<line x1="228.20" y1="242.20" x2="230.80" y2="242.20" stroke="#a8203e" stroke-width="0.8" />
<line x1="235.80" y1="216.20" x2="235.80" y2="235.10" stroke="#a8203e" stroke-width="0.8" />
<line x1="234.50" y1="216.20" x2="237.10" y2="216.20" stroke="#a8203e" stroke-width="0.8" />
<line x1="234.50" y1="235.10" x2="237.10" y2="235.10" stroke="#a8203e" stroke-width="0.8" />
<line x1="242.50" y1="206.80" x2="242.50" y2="228.00" stroke="#a8203e" stroke-width="0.8" />
<line x1="241.20" y1="206.80" x2="243.80" y2="206.80" stroke="#a8203e" stroke-width="0.8" />
<line x1="241.20" y1="228.00" x2="243.80" y2="228.00" stroke="#a8203e" stroke-width="0.8" />
<line x1="244.80" y1="206.80" x2="244.80" y2="225.70" stroke="#a8203e" stroke-width="0.8" />
<line x1="243.50" y1="206.80" x2="246.10" y2="206.80" stroke="#a8203e" stroke-width="0.8" />
<line x1="243.50" y1="225.70" x2="246.10" y2="225.70" stroke="#a8203e" stroke-width="0.8" />
<line x1="249.50" y1="196.20" x2="249.50" y2="212.70" stroke="#a8203e" stroke-width="0.8" />
<line x1="248.20" y1="196.20" x2="250.80" y2="196.20" stroke="#a8203e" stroke-width="0.8" />
<line x1="248.20" y1="212.70" x2="250.80" y2="212.70" stroke="#a8203e" stroke-width="0.8" />
<line x1="252.40" y1="196.20" x2="252.40" y2="215.00" stroke="#a8203e" stroke-width="0.8" />
<line x1="251.10" y1="196.20" x2="253.70" y2="196.20" stroke="#a8203e" stroke-width="0.8" />
<line x1="251.10" y1="215.00" x2="253.70" y2="215.00" stroke="#a8203e" stroke-width="0.8" />
<polyline points="204.4,265.2 207.1,257.5 214.2,252.8 220,249.2 223.6,246.9 225.9,241 229.5,235.1 235.4,228 241.3,222.1 246,217.4 251.9,205.6" fill="none" stroke="#ab0430" stroke-width="1.6" stroke-linejoin="round"/>
<ellipse cx="207.10" cy="257.50" rx="1.30" ry="1.30" fill="#ab0430" />
<ellipse cx="214.20" cy="252.80" rx="1.30" ry="1.30" fill="#ab0430" />
<ellipse cx="220.00" cy="249.20" rx="1.30" ry="1.30" fill="#ab0430" />
<ellipse cx="223.60" cy="246.90" rx="1.30" ry="1.30" fill="#ab0430" />
<ellipse cx="225.90" cy="241.00" rx="1.30" ry="1.30" fill="#ab0430" />
<ellipse cx="229.50" cy="235.10" rx="1.30" ry="1.30" fill="#ab0430" />
<ellipse cx="235.40" cy="228.00" rx="1.30" ry="1.30" fill="#ab0430" />
<ellipse cx="241.30" cy="222.10" rx="1.30" ry="1.30" fill="#ab0430" />
<ellipse cx="246.00" cy="217.40" rx="1.30" ry="1.30" fill="#ab0430" />
<ellipse cx="251.90" cy="205.60" rx="1.30" ry="1.30" fill="#ab0430" />
<polyline points="167.4,268.8 170.6,267 173.8,268 176.9,268.8 181.2,268.4 184.9,266 188.6,266.4 191.7,264.5 194.9,264 198.1,264.8 201.3,264.8 204.4,265.2" fill="none" stroke="#3a2a5a" stroke-width="1.6" stroke-linejoin="round"/>
<ellipse cx="167.40" cy="268.80" rx="1.50" ry="1.50" fill="#2e2f5c" />
<ellipse cx="170.60" cy="267.00" rx="1.50" ry="1.50" fill="#2e2f5c" />
<ellipse cx="173.80" cy="268.00" rx="1.50" ry="1.50" fill="#2e2f5c" />
<ellipse cx="176.90" cy="268.80" rx="1.50" ry="1.50" fill="#2e2f5c" />
<ellipse cx="181.20" cy="268.40" rx="1.50" ry="1.50" fill="#2e2f5c" />
<ellipse cx="184.90" cy="266.00" rx="1.50" ry="1.50" fill="#2e2f5c" />
<ellipse cx="188.60" cy="266.40" rx="1.50" ry="1.50" fill="#2e2f5c" />
<ellipse cx="191.70" cy="264.50" rx="1.50" ry="1.50" fill="#2e2f5c" />
<ellipse cx="194.90" cy="264.00" rx="1.50" ry="1.50" fill="#2e2f5c" />
<ellipse cx="198.10" cy="264.80" rx="1.50" ry="1.50" fill="#2e2f5c" />
<ellipse cx="201.30" cy="264.80" rx="1.50" ry="1.50" fill="#2e2f5c" />
<ellipse cx="204.40" cy="265.20" rx="1.50" ry="1.50" fill="#2e2f5c" />
<text x="253.80" y="225.20" font-size="5.5" fill="#1a1a1a" text-anchor="middle" >*</text>
<text x="339.70" y="172.90" font-size="8.4" fill="#1a1a1a" textLength="12.70" lengthAdjust="spacingAndGlyphs" >338</text>
<line x1="332.90" y1="175.80" x2="359.00" y2="175.80" stroke="#111" stroke-width="1.7" />
<text x="374.70" y="172.90" font-size="8.4" fill="#1a1a1a" textLength="13.20" lengthAdjust="spacingAndGlyphs" >339</text>
<line x1="368.40" y1="175.80" x2="393.60" y2="175.80" stroke="#111" stroke-width="1.7" />
<text x="408.70" y="172.90" font-size="8.4" fill="#1a1a1a" textLength="13.20" lengthAdjust="spacingAndGlyphs" >340</text>
<line x1="403.00" y1="175.80" x2="427.50" y2="175.80" stroke="#111" stroke-width="1.7" />
<text x="291.60" y="184.20" font-size="8" fill="#1a1a1a" textLength="22.10" lengthAdjust="spacingAndGlyphs" >Mec-1</text>
<text x="336.00" y="184.20" font-size="8" fill="#1a1a1a" >R</text>
<text x="352.40" y="184.20" font-size="8" fill="#1a1a1a" >L</text>
<text x="371.00" y="184.20" font-size="8" fill="#1a1a1a" >R</text>
<text x="387.00" y="184.20" font-size="8" fill="#1a1a1a" >L</text>
<text x="405.50" y="184.20" font-size="8" fill="#1a1a1a" >R</text>
<text x="422.80" y="184.20" font-size="8" fill="#1a1a1a" >L</text>
<rect x="291.50" y="186.00" width="143.20" height="17.80" fill="#a9a9a9" />
<rect x="314.50" y="186.00" width="13.50" height="8.00" fill="#bcbcbc" filter="url(#b1)"/>
<g filter="url(#b1)">
<path d="M296.3,202.3 L296.6,194 Q297.5,190.2 302.5,190.4 Q308.6,190.4 309.2,194.5 L309.6,202.3 Z" fill="#1e1e1e"/>
<rect x="315.70" y="193.80" width="11.50" height="1.60" rx="0.80" fill="#1a1a1a" opacity="1"/>
</g>
<g filter="url(#b2)">
<rect x="315.20" y="188.30" width="12.00" height="2.20" rx="1.10" fill="#8e8e8e" opacity="1"/>
<rect x="333.60" y="196.90" width="9.70" height="3.00" rx="1.50" fill="#828282" opacity="1"/>
<rect x="349.00" y="196.20" width="11.60" height="3.20" rx="1.60" fill="#7a7a7a" opacity="1"/>
<rect x="385.00" y="195.80" width="10.60" height="3.60" rx="1.80" fill="#686868" opacity="1"/>
<rect x="401.50" y="195.70" width="11.00" height="3.00" rx="1.50" fill="#7e7e7e" opacity="1"/>
<rect x="418.60" y="195.00" width="14.00" height="4.00" rx="2.00" fill="#626262" opacity="1"/>
</g>
<rect x="291.50" y="204.20" width="144.20" height="7.90" fill="#7a7a7a" />
<rect x="292.40" y="204.90" width="16.80" height="6.50" fill="#fff" />
<text x="301.10" y="210.50" font-size="6.4" fill="#1a1a1a" textLength="12.20" lengthAdjust="spacingAndGlyphs" text-anchor="middle" >4.46</text>
<rect x="311.00" y="204.90" width="16.80" height="6.50" fill="#fff" />
<rect x="329.60" y="204.90" width="15.30" height="6.50" fill="#fff" />
<text x="337.25" y="210.50" font-size="6.4" fill="#1a1a1a" textLength="12.20" lengthAdjust="spacingAndGlyphs" text-anchor="middle" >0.30</text>
<rect x="346.70" y="204.90" width="15.80" height="6.50" fill="#fff" />
<text x="354.60" y="210.50" font-size="6.4" fill="#1a1a1a" textLength="12.20" lengthAdjust="spacingAndGlyphs" text-anchor="middle" >0.41</text>
<rect x="364.30" y="204.90" width="16.00" height="6.50" fill="#fff" />
<text x="372.30" y="210.50" font-size="6.4" fill="#1a1a1a" textLength="12.20" lengthAdjust="spacingAndGlyphs" text-anchor="middle" >0.08</text>
<rect x="382.10" y="204.90" width="16.20" height="6.50" fill="#fff" />
<text x="390.20" y="210.50" font-size="6.4" fill="#1a1a1a" textLength="12.20" lengthAdjust="spacingAndGlyphs" text-anchor="middle" >0.41</text>
<rect x="400.10" y="204.90" width="16.20" height="6.50" fill="#fff" />
<text x="408.20" y="210.50" font-size="6.4" fill="#1a1a1a" textLength="12.20" lengthAdjust="spacingAndGlyphs" text-anchor="middle" >0.15</text>
<rect x="418.10" y="204.90" width="16.70" height="6.50" fill="#fff" />
<text x="426.15" y="210.50" font-size="6.4" fill="#1a1a1a" textLength="12.20" lengthAdjust="spacingAndGlyphs" text-anchor="middle" >0.45</text>
<rect x="292.40" y="212.20" width="142.60" height="19.60" fill="#a9a9a9" />
<g filter="url(#b1)">
<rect x="295.80" y="217.90" width="10.70" height="2.20" rx="1.10" fill="#222" opacity="1"/>
<rect x="312.40" y="215.40" width="12.60" height="1.20" rx="0.60" fill="#333" opacity="1"/>
<rect x="312.40" y="226.10" width="12.60" height="1.40" rx="0.70" fill="#333" opacity="1"/>
<rect x="331.00" y="219.70" width="12.50" height="4.00" rx="2.00" fill="#151515" opacity="1"/>
<rect x="347.30" y="221.20" width="13.10" height="3.40" rx="1.70" fill="#181818" opacity="1"/>
<path d="M366.8,220.4 Q366.5,215 369.5,213.6 Q371.5,214.5 372.2,216 Q373,214.2 375,213.6 Q377.8,215 377.6,220.4 Z" fill="#202020"/>
<rect x="367.30" y="222.00" width="10.20" height="3.20" rx="1.60" fill="#151515" opacity="1"/>
<rect x="383.60" y="222.10" width="11.40" height="3.80" rx="1.90" fill="#181818" opacity="1"/>
<path d="M400.7,227.8 Q400.5,222 404,219.5 L406.8,215.8 L409.5,219.5 Q413.2,222 413,227.8 Z" fill="#151515"/>
<rect x="418.00" y="223.80" width="14.60" height="4.00" rx="2.00" fill="#131313" opacity="1"/>
</g>
<text x="437.20" y="197.60" font-size="8.3" fill="#1a1a1a" textLength="18.20" lengthAdjust="spacingAndGlyphs" >Par-4</text>
<text x="437.20" y="225.00" font-size="8.3" fill="#1a1a1a" textLength="23.60" lengthAdjust="spacingAndGlyphs" >β-actin</text>
<text x="340.00" y="239.70" font-size="8.4" fill="#1a1a1a" textLength="12.60" lengthAdjust="spacingAndGlyphs" >341</text>
<line x1="334.50" y1="243.50" x2="359.70" y2="243.50" stroke="#111" stroke-width="1.7" />
<text x="375.40" y="239.70" font-size="8.4" fill="#1a1a1a" textLength="12.30" lengthAdjust="spacingAndGlyphs" >342</text>
<line x1="369.50" y1="243.50" x2="394.20" y2="243.50" stroke="#111" stroke-width="1.7" />
<text x="409.00" y="239.70" font-size="8.4" fill="#1a1a1a" textLength="12.20" lengthAdjust="spacingAndGlyphs" >343</text>
<line x1="402.30" y1="243.50" x2="427.70" y2="243.50" stroke="#111" stroke-width="1.7" />
<text x="292.00" y="252.00" font-size="8" fill="#1a1a1a" textLength="22.00" lengthAdjust="spacingAndGlyphs" >Mec-1</text>
<text x="336.00" y="252.00" font-size="8" fill="#1a1a1a" >R</text>
<text x="353.40" y="252.00" font-size="8" fill="#1a1a1a" >L</text>
<text x="371.50" y="252.00" font-size="8" fill="#1a1a1a" >R</text>
<text x="388.50" y="252.00" font-size="8" fill="#1a1a1a" >L</text>
<text x="405.40" y="252.00" font-size="8" fill="#1a1a1a" >R</text>
<text x="421.50" y="252.00" font-size="8" fill="#1a1a1a" >L</text>
<rect x="294.00" y="253.80" width="141.40" height="17.60" fill="#a9a9a9" />
<g filter="url(#b1)">
<path d="M297.9,267.6 L299,260 Q299.5,254 304.5,253.9 Q310,254 310.2,260 L311.1,267.6 Z" fill="#1a1a1a"/>
<path d="M302.5,256 L302.2,266 M307,257 L307.6,266" stroke="#3c3c3c" stroke-width="0.9"/>
<rect x="317.20" y="254.75" width="9.30" height="1.50" rx="0.75" fill="#2a2a2a" opacity="1"/>
<rect x="317.70" y="258.05" width="9.90" height="1.50" rx="0.75" fill="#2a2a2a" opacity="1"/>
<rect x="317.70" y="262.60" width="9.30" height="1.20" rx="0.60" fill="#777" opacity="1"/>
<rect x="317.20" y="268.85" width="9.30" height="1.50" rx="0.75" fill="#2a2a2a" opacity="1"/>
<rect x="333.00" y="263.00" width="11.70" height="2.40" rx="1.20" fill="#6a6a6a" opacity="1"/>
<rect x="350.30" y="262.30" width="11.70" height="3.00" rx="1.50" fill="#4a4a4a" opacity="1"/>
<rect x="370.00" y="262.40" width="8.00" height="2.20" rx="1.10" fill="#9c9c9c" opacity="1"/>
<rect x="384.60" y="261.20" width="12.40" height="3.80" rx="1.90" fill="#151515" opacity="1"/>
<rect x="404.60" y="261.20" width="7.70" height="2.20" rx="1.10" fill="#929292" opacity="1"/>
<rect x="417.70" y="259.10" width="13.10" height="4.00" rx="2.00" fill="#151515" opacity="1"/>
</g>
<rect x="294.00" y="271.60" width="141.60" height="7.90" fill="#7a7a7a" />
<rect x="294.90" y="272.30" width="15.70" height="6.50" fill="#fff" />
<text x="303.05" y="277.90" font-size="6.4" fill="#1a1a1a" textLength="14.60" lengthAdjust="spacingAndGlyphs" text-anchor="middle" >10.73</text>
<rect x="312.40" y="272.30" width="15.70" height="6.50" fill="#fff" />
<rect x="329.90" y="272.30" width="15.70" height="6.50" fill="#fff" />
<text x="337.75" y="277.90" font-size="6.4" fill="#1a1a1a" textLength="12.20" lengthAdjust="spacingAndGlyphs" text-anchor="middle" >0.40</text>
<rect x="347.40" y="272.30" width="15.50" height="6.50" fill="#fff" />
<text x="355.15" y="277.90" font-size="6.4" fill="#1a1a1a" textLength="12.20" lengthAdjust="spacingAndGlyphs" text-anchor="middle" >0.93</text>
<rect x="364.70" y="272.30" width="16.70" height="6.50" fill="#fff" />
<text x="373.05" y="277.90" font-size="6.4" fill="#1a1a1a" textLength="12.20" lengthAdjust="spacingAndGlyphs" text-anchor="middle" >0.11</text>
<rect x="383.20" y="272.30" width="15.10" height="6.50" fill="#fff" />
<text x="390.75" y="277.90" font-size="6.4" fill="#1a1a1a" textLength="12.20" lengthAdjust="spacingAndGlyphs" text-anchor="middle" >1.56</text>
<rect x="400.10" y="272.30" width="16.00" height="6.50" fill="#fff" />
<text x="408.10" y="277.90" font-size="6.4" fill="#1a1a1a" textLength="12.20" lengthAdjust="spacingAndGlyphs" text-anchor="middle" >0.26</text>
<rect x="417.90" y="272.30" width="16.80" height="6.50" fill="#fff" />
<text x="426.00" y="277.90" font-size="6.4" fill="#1a1a1a" textLength="12.20" lengthAdjust="spacingAndGlyphs" text-anchor="middle" >1.49</text>
<rect x="294.40" y="279.90" width="141.00" height="21.60" fill="#a9a9a9" />
<g filter="url(#b1)">
<rect x="295.00" y="291.40" width="11.50" height="2.40" rx="1.20" fill="#222" opacity="1"/>
<rect x="312.40" y="287.10" width="11.10" height="1.20" rx="0.60" fill="#333" opacity="1"/>
<rect x="312.40" y="298.50" width="11.10" height="1.40" rx="0.70" fill="#333" opacity="1"/>
<rect x="329.60" y="290.90" width="13.10" height="4.40" rx="2.20" fill="#131313" opacity="1"/>
<rect x="348.00" y="290.80" width="12.40" height="3.60" rx="1.80" fill="#151515" opacity="1"/>
<rect x="364.20" y="289.70" width="13.80" height="4.40" rx="2.20" fill="#151515" opacity="1"/>
<rect x="382.70" y="290.10" width="13.90" height="3.60" rx="1.80" fill="#181818" opacity="1"/>
<rect x="400.00" y="288.50" width="15.00" height="5.20" rx="2.60" fill="#121212" opacity="1"/>
<rect x="417.30" y="286.60" width="16.20" height="5.20" rx="2.60" fill="#121212" opacity="1"/>
</g>
<text x="437.20" y="263.40" font-size="8.3" fill="#1a1a1a" textLength="18.20" lengthAdjust="spacingAndGlyphs" >Par-4</text>
<text x="437.20" y="290.00" font-size="8.3" fill="#1a1a1a" textLength="23.80" lengthAdjust="spacingAndGlyphs" >β-actin</text>
<rect x="0" y="0" width="520" height="1.1" fill="#000"/><rect x="0" y="0" width="1.3" height="318" fill="#000"/><rect x="518.4" y="0" width="1.6" height="318" fill="#000"/><rect x="0" y="316.3" width="520" height="1.7" fill="#000"/>
</svg>
</body></html>
